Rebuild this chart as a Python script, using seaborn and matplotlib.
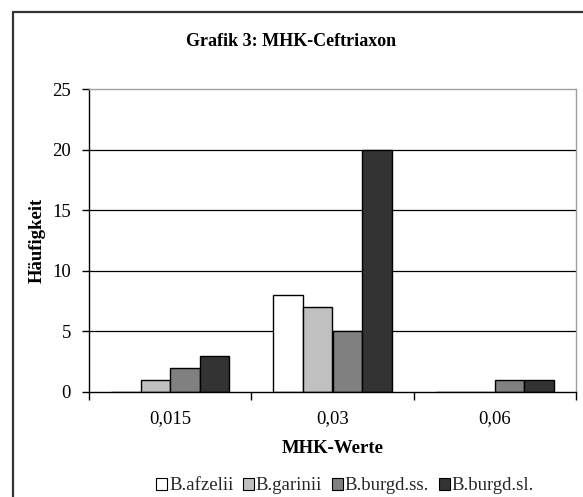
import matplotlib
matplotlib.use("Agg")
import matplotlib.pyplot as plt
import seaborn as sns
import pandas as pd
from matplotlib.lines import Line2D
from matplotlib.patches import Patch

categories = ["0,015", "0,03", "0,06"]
series_names = ["B.afzelii", "B.garinii", "B.burgd.ss.", "B.burgd.sl."]
afzelii = [0, 8, 0]
garinii = [1, 7, 0]
burgd_ss = [2, 5, 1]
burgd_sl = [3, 20, 1]
colors = ["#FFFFFF", "#C0C0C0", "#808080", "#333333"]

rows = []
for name, vals in zip(series_names, [afzelii, garinii, burgd_ss, burgd_sl]):
    for c, v in zip(categories, vals):
        rows.append({"MHK": c, "Serie": name, "Wert": v})
df = pd.DataFrame(rows)

sns.set_theme(style="white")
plt.rcParams["font.family"] = ["Liberation Serif", "DejaVu Serif"]

FS = 13.5

fig = plt.figure(figsize=(5.83, 4.97), dpi=100)
ax = fig.add_axes([89/583, 1-392/497, (576-89)/583, (392-89)/497])

sns.barplot(data=df, x="MHK", y="Wert", hue="Serie", order=categories,
            hue_order=series_names, palette=colors, width=0.73,
            edgecolor="black", linewidth=1.0, ax=ax, legend=False)

ax.set_ylim(0, 25)
ax.set_xlim(-0.5, 2.5)
ax.set_yticks([0, 5, 10, 15, 20, 25])
ax.set_yticklabels(["0", "5", "10", "15", "20", "25"], fontsize=FS)
ax.set_xticks(range(len(categories)))
ax.set_xticklabels(categories, fontsize=FS)
ax.set_xticks([-0.5, 0.5, 1.5, 2.5], minor=True)
ax.tick_params(axis="x", which="major", length=0, pad=13, colors="black")
ax.tick_params(axis="x", which="minor", length=6, width=1, color="black", direction="out", bottom=True)
ax.tick_params(axis="y", length=5, width=1, color="black", direction="out", left=True, pad=8)
for lab in ax.get_xticklabels() + ax.get_yticklabels():
    lab.set_color("black")

for y in [5, 10, 15, 20]:
    ax.axhline(y, color="black", linewidth=0.9, zorder=0)

ax.spines["left"].set_color("black")
ax.spines["bottom"].set_color("black")
ax.spines["top"].set_color("#A0A0A0")
ax.spines["right"].set_color("#A0A0A0")
for s in ax.spines.values():
    s.set_linewidth(1.0)
    s.set_visible(True)

ax.set_xlabel("MHK-Werte", fontsize=FS, fontweight="bold", labelpad=9, color="black")
ax.set_ylabel("Häufigkeit", fontsize=FS, fontweight="bold", labelpad=5, color="black")

fig.text(0.5, 1-42/497, "Grafik 3: MHK-Ceftriaxon", fontsize=13, fontweight="bold",
         ha="center", va="center", color="black")

handles = [Patch(facecolor=c, edgecolor="black", linewidth=0.8) for c in colors]
fig.legend(handles, series_names, loc="center", bbox_to_anchor=(345/583, 1-486/497),
           ncol=4, frameon=False, fontsize=FS, handlelength=0.6, handleheight=0.6,
           handletextpad=0.1, columnspacing=0.5, borderpad=0)

fig.add_artist(Line2D([13/583, 13/583], [0, 1-12/497], transform=fig.transFigure,
                      color="#333333", linewidth=1.6))
fig.add_artist(Line2D([13/583, 1], [1-12/497, 1-12/497], transform=fig.transFigure,
                      color="#333333", linewidth=1.6))

fig.savefig("out.png", dpi=100)
